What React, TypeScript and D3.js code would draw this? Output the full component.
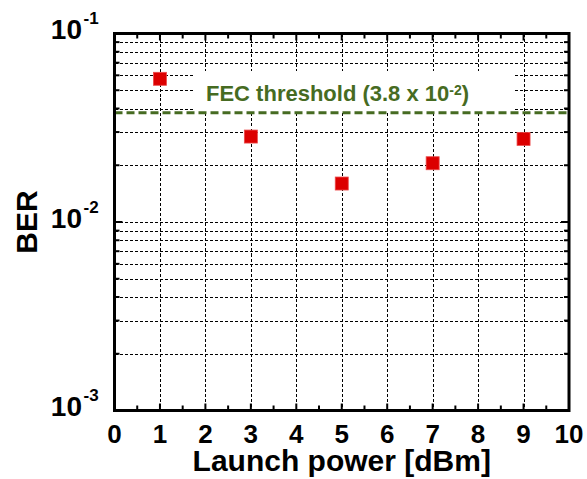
import React from "react";
import * as d3 from "d3";

// Measured bit error rate per launch power
const launchPower = [1, 3, 5, 7, 9];
const ber = [0.0575, 0.0284, 0.0160, 0.0205, 0.0276];

const xTicks = [0, 1, 2, 3, 4, 5, 6, 7, 8, 9, 10];
const yDecades = [1e-3, 1e-2, 1e-1];
const yExponents = ["-3", "-2", "-1"];
const fecThreshold = 3.8e-2;

const W = 587;
const H = 479;
const FONT = "'Liberation Sans', Arial, Helvetica, sans-serif";
const GREEN = "#466b22";

export default function App() {
  const x = d3.scaleLinear().domain([0, 10]).range([114.5, 569]);
  const y = d3.scaleLog().domain([1e-3, 1e-1]).range([410.5, 33.5]);

  // minor log positions (2..9 of each decade) plus the inner decade
  const minorY: number[] = [];
  [1e-3, 1e-2].forEach((d) => {
    for (let k = 2; k <= 9; k++) minorY.push(d * k);
  });
  const gridY = [...minorY, 1e-2];
  const gridX = d3.range(1, 10);
  const halfX = d3.range(0.5, 10, 1);

  const [x0, x1] = x.range();
  const [yb, yt] = y.range();
  const snap = (v: number) => Math.round(v) + 0.5;

  return (
    <svg
      width={W}
      height={H}
      style={{ position: "absolute", left: 0, top: 0, background: "#fff" }}
      fontFamily={FONT}
    >
      {/* dotted grid */}
      <g stroke="#000" strokeWidth={1} strokeDasharray="3,2" shapeRendering="crispEdges">
        {gridY.map((v, i) => (
          <line key={"gy" + i} x1={x0} x2={x1} y1={snap(y(v))} y2={snap(y(v))} />
        ))}
        {gridX.map((v) => (
          <line key={"gx" + v} x1={snap(x(v))} x2={snap(x(v))} y1={yt} y2={yb} />
        ))}
      </g>

      {/* label background */}
      <rect x={193} y={71} width={320} height={40} fill="#fff" />

      {/* FEC threshold */}
      <line
        x1={x0}
        x2={x1}
        y1={y(fecThreshold)}
        y2={y(fecThreshold)}
        stroke={GREEN}
        strokeWidth={3}
        strokeDasharray="8,4"
      />
      <text x={206} y={100.5} fontSize={22} fontWeight="bold" fill={GREEN}>
        <tspan>FEC threshold (3.8 x 10</tspan>
        <tspan fontSize={14} dy={-6}>-2</tspan>
        <tspan dy={6}>)</tspan>
      </text>

      {/* data markers */}
      {launchPower.map((p, i) => (
        <rect
          key={"m" + i}
          x={x(p) - 6.5}
          y={y(ber[i]) - 6.5}
          width={13}
          height={13}
          fill="#dc0000"
          stroke="#ec4a4a"
          strokeWidth={0.8}
        />
      ))}

      {/* ticks, inward on all four sides */}
      <g stroke="#000" strokeWidth={2}>
        {gridX.map((v) => (
          <g key={"tx" + v}>
            <line x1={x(v)} x2={x(v)} y1={yb} y2={yb - 7} />
            <line x1={x(v)} x2={x(v)} y1={yt} y2={yt + 7} />
          </g>
        ))}
        {halfX.map((v) => (
          <g key={"th" + v}>
            <line x1={x(v)} x2={x(v)} y1={yb} y2={yb - 5} />
            <line x1={x(v)} x2={x(v)} y1={yt} y2={yt + 5} />
          </g>
        ))}
        {minorY.map((v, i) => (
          <g key={"ty" + i}>
            <line x1={x0} x2={x0 + 5} y1={y(v)} y2={y(v)} />
            <line x1={x1} x2={x1 - 5} y1={y(v)} y2={y(v)} />
          </g>
        ))}
        <line x1={x0} x2={x0 + 8} y1={y(1e-2)} y2={y(1e-2)} />
        <line x1={x1} x2={x1 - 8} y1={y(1e-2)} y2={y(1e-2)} />
      </g>

      {/* frame */}
      <rect
        x={x0}
        y={yt}
        width={x1 - x0}
        height={yb - yt}
        fill="none"
        stroke="#000"
        strokeWidth={3}
      />

      {/* x tick labels */}
      {xTicks.map((v) => (
        <text
          key={"xl" + v}
          x={x(v)}
          y={443}
          textAnchor="middle"
          fontSize={26}
          fontWeight="bold"
        >
          {v}
        </text>
      ))}

      {/* y tick labels */}
      {yDecades.map((v, i) => (
        <g key={"yl" + i}>
          <text x={82} y={y(v) + 5.5} textAnchor="end" fontSize={28} fontWeight="bold">
            10
          </text>
          <text x={83.5} y={y(v) - 9.5} fontSize={17} fontWeight="bold">
            {yExponents[i]}
          </text>
        </g>
      ))}

      {/* axis titles */}
      <text
        x={(x0 + x1) / 2}
        y={471}
        textAnchor="middle"
        fontSize={30}
        fontWeight="bold"
      >
        Launch power [dBm]
      </text>
      <text
        transform={`translate(37, ${(yt + yb) / 2}) rotate(-90)`}
        textAnchor="middle"
        fontSize={30}
        fontWeight="bold"
      >
        BER
      </text>
    </svg>
  );
}
